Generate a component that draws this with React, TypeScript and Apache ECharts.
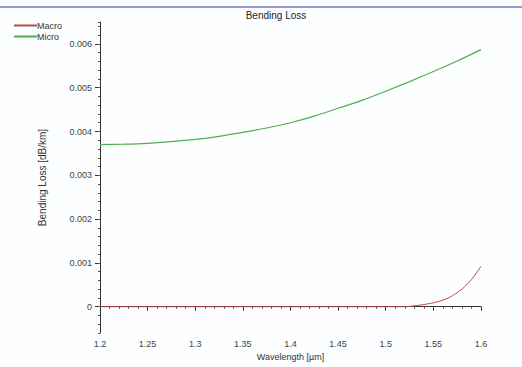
import React, { useEffect, useRef } from "react";
import * as echarts from "echarts";

const TITLE = "Bending Loss";
const SERIES_NAMES = ["Macro", "Micro"];
const X_NAME = "Wavelength [µm]";
const Y_NAME = "Bending Loss [dB/km]";

const microWavelengths = [1.2, 1.225, 1.25, 1.275, 1.3, 1.325, 1.35, 1.375, 1.4, 1.425, 1.45, 1.475, 1.5, 1.525, 1.55, 1.575, 1.6];
const microValues = [0.0037, 0.00371, 0.00373, 0.00377, 0.00382, 0.00389, 0.00398, 0.00408, 0.0042, 0.00435, 0.00453, 0.00471, 0.00492, 0.00514, 0.00537, 0.00561, 0.00587];

const macroWavelengths = [1.2, 1.3, 1.4, 1.5, 1.52, 1.53, 1.54, 1.55, 1.56, 1.57, 1.58, 1.59, 1.6];
const macroValues = [0, 0, 0, 0, 0, 0.00002, 0.00005, 0.00009, 0.00015, 0.00025, 0.0004, 0.00062, 0.00092];

const yTickValues = [0, 0.001, 0.002, 0.003, 0.004, 0.005, 0.006];

const FONT = "Liberation Sans";

export default function App() {
  const ref = useRef<HTMLDivElement>(null);
  useEffect(() => {
    document.body.style.margin = "0";
    const chart = echarts.init(ref.current!, null, { renderer: "svg" });
    const macroData = macroWavelengths.map((x, i) => [x, macroValues[i]]);
    const microData = microWavelengths.map((x, i) => [x, microValues[i]]);
    const fmtY = (v: number) => (Math.abs(v) < 1e-12 ? "0" : String(Number(v.toFixed(3))));
    chart.setOption({
      animation: false,
      backgroundColor: "#fdfeff",
      title: {
        text: TITLE,
        left: 271,
        textAlign: "center",
        top: 5,
        textStyle: { fontFamily: FONT, fontSize: 10, fontWeight: "normal", color: "#222" },
      },
      graphic: [
        { type: "line", shape: { x1: 0, y1: 7, x2: 522, y2: 7 }, style: { stroke: "#7474cc", lineWidth: 1.5 } },
      ],
      legend: {
        orient: "vertical",
        left: 9,
        top: 16,
        padding: 5,
        itemWidth: 23,
        itemHeight: 2,
        itemGap: 2,
        icon: "rect",
        data: SERIES_NAMES,
        textStyle: { fontFamily: FONT, fontSize: 9, color: "#333", padding: [0, 0, 0, -5] },
      },
      grid: { left: 100, right: 41, top: 22, bottom: 34 },
      xAxis: {
        type: "value",
        min: 1.2,
        max: 1.6,
        interval: 0.05,
        name: X_NAME,
        nameLocation: "middle",
        nameGap: 19,
        nameTextStyle: { fontFamily: FONT, fontSize: 9, color: "#333" },
        axisLine: { show: true, lineStyle: { color: "#333", width: 1 } },
        axisTick: { show: true, length: 4, lineStyle: { color: "#333" } },
        minorTick: { show: true, splitNumber: 5, length: 2, lineStyle: { color: "#555" } },
        splitLine: { show: false },
        axisLabel: {
          fontFamily: FONT,
          fontSize: 9,
          color: "#444",
          margin: 6,
          formatter: (v: number) => String(Number(v.toFixed(2))),
        },
      },
      yAxis: [
        {
          type: "value",
          min: -0.0006,
          max: 0.0065,
          name: Y_NAME,
          nameLocation: "middle",
          nameGap: 53,
          nameTextStyle: { fontFamily: FONT, fontSize: 10, color: "#333" },
          axisLine: { show: true, lineStyle: { color: "#333", width: 1 } },
          axisTick: { show: true, length: 5, customValues: yTickValues, lineStyle: { color: "#333" } },
          splitLine: { show: false },
          axisLabel: {
            fontFamily: FONT,
            fontSize: 9,
            color: "#444",
            margin: 8,
            customValues: yTickValues,
            formatter: fmtY,
          },
        },
        {
          type: "value",
          position: "left",
          min: -0.0006,
          max: 0.0065,
          interval: 0.0002,
          axisLine: { show: false },
          axisTick: { show: true, length: 2, lineStyle: { color: "#555" } },
          axisLabel: { show: false },
          splitLine: { show: false },
        },
      ],
      series: [
        {
          name: SERIES_NAMES[0],
          type: "line",
          data: macroData,
          smooth: 0.25,
          showSymbol: false,
          color: "#b94a4a",
          lineStyle: { width: 1, color: "#b94a4a" },
        },
        {
          name: SERIES_NAMES[1],
          type: "line",
          data: microData,
          smooth: 0.25,
          showSymbol: false,
          color: "#4fae4f",
          lineStyle: { width: 1.2, color: "#4fae4f" },
        },
      ],
    });
    return () => chart.dispose();
  }, []);
  return <div ref={ref} style={{ width: 522, height: 367 }} />;
}
